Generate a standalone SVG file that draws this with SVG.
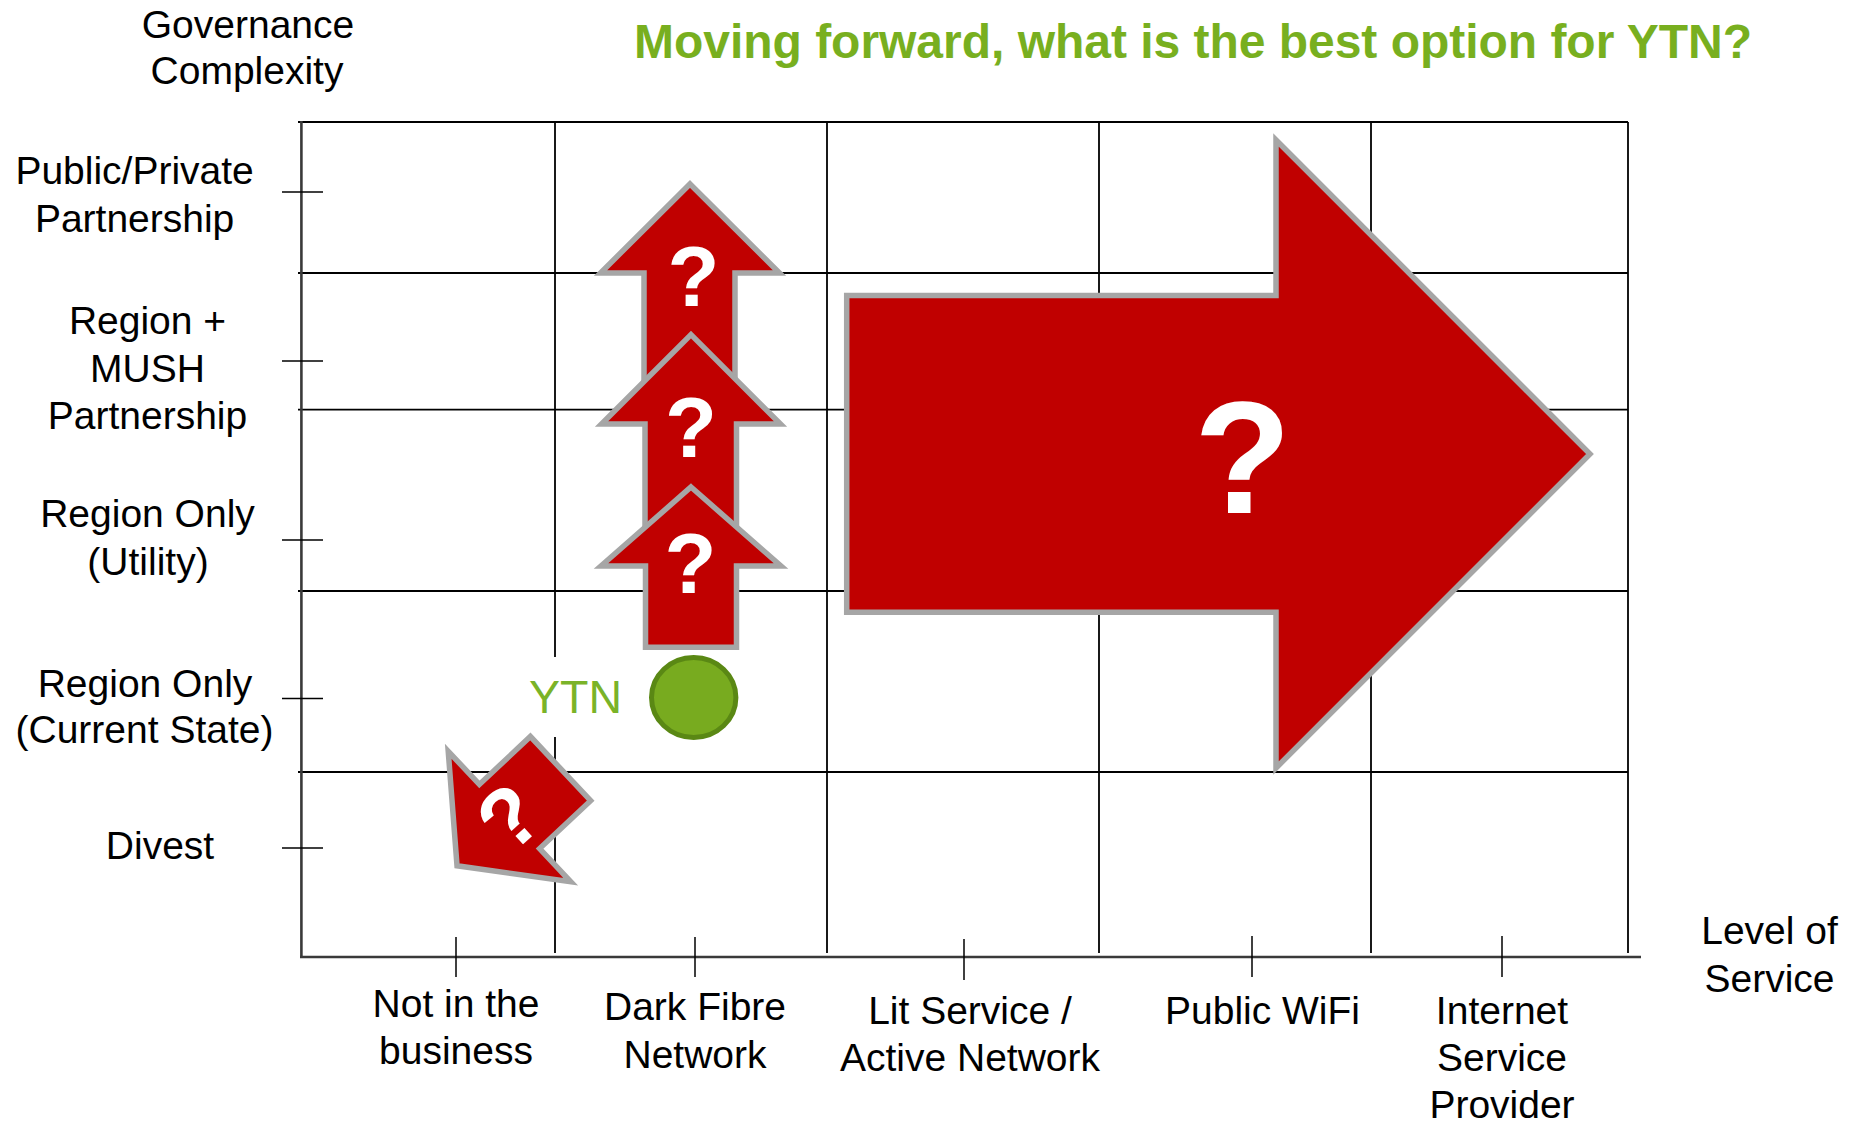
<svg xmlns="http://www.w3.org/2000/svg" width="1855" height="1124" viewBox="0 0 1855 1124">
<style>
  .lbl { font-family: "Liberation Sans", Arial, sans-serif; font-size: 39px; fill: #000; text-anchor: middle; }
  .grid { stroke: #000; stroke-width: 1.8; fill: none; }
  .axis { stroke: #3a3a3a; stroke-width: 2.6; fill: none; }
  .tick { stroke: #000; stroke-width: 1.5; fill: none; }
  .arrow { fill: #C00000; stroke: #A6A6A6; stroke-width: 5.5; stroke-linejoin: miter; }
  .q { font-family: "Liberation Sans", Arial, sans-serif; font-weight: bold; fill: #fff; text-anchor: middle; }
  .green { fill: #78AF1F; }
</style>
<rect x="0" y="0" width="1855" height="1124" fill="#fff"/>

<g id="grid">
  <line class="grid" x1="298" y1="122" x2="1628" y2="122"/>
  <line class="grid" x1="298" y1="273" x2="1628" y2="273"/>
  <line class="grid" x1="298" y1="409.6" x2="1628" y2="409.6"/>
  <line class="grid" x1="298" y1="591" x2="1628" y2="591"/>
  <line class="grid" x1="298" y1="772" x2="1628" y2="772"/>
  <line class="grid" x1="555" y1="122" x2="555" y2="953"/>
  <line class="grid" x1="827" y1="122" x2="827" y2="953"/>
  <line class="grid" x1="1099" y1="122" x2="1099" y2="953"/>
  <line class="grid" x1="1371" y1="122" x2="1371" y2="953"/>
  <line class="grid" x1="1628" y1="122" x2="1628" y2="953"/>
</g>

<g id="axes">
  <line class="axis" x1="301.4" y1="121" x2="301.4" y2="957"/>
  <line class="axis" x1="300" y1="957" x2="1641" y2="957"/>
  <line class="tick" x1="282" y1="192" x2="323" y2="192"/>
  <line class="tick" x1="282" y1="361" x2="323" y2="361"/>
  <line class="tick" x1="282" y1="540" x2="323" y2="540"/>
  <line class="tick" x1="282" y1="698.5" x2="323" y2="698.5"/>
  <line class="tick" x1="282" y1="848" x2="323" y2="848"/>
  <line class="tick" x1="456" y1="937" x2="456" y2="977"/>
  <line class="tick" x1="695" y1="937" x2="695" y2="977"/>
  <line class="tick" x1="964" y1="939" x2="964" y2="980"/>
  <line class="tick" x1="1252" y1="936" x2="1252" y2="977"/>
  <line class="tick" x1="1502" y1="936" x2="1502" y2="977"/>
</g>

<g id="title">
  <text x="634" y="57.5" font-family="Liberation Sans, Arial, sans-serif" font-size="48" font-weight="bold" class="green" textLength="1118" lengthAdjust="spacing">Moving forward, what is the best option for YTN?</text>
</g>

<g id="y-axis-title">
  <text class="lbl" x="248" y="37.5">Governance</text>
  <text class="lbl" x="247" y="84">Complexity</text>
</g>

<g id="y-labels">
  <text class="lbl" x="134.6" y="184">Public/Private</text>
  <text class="lbl" x="134.6" y="232">Partnership</text>
  <text class="lbl" x="147.5" y="334">Region +</text>
  <text class="lbl" x="147.5" y="382">MUSH</text>
  <text class="lbl" x="147.5" y="428.6">Partnership</text>
  <text class="lbl" x="147.5" y="527">Region Only</text>
  <text class="lbl" x="148" y="575">(Utility)</text>
  <text class="lbl" x="145" y="697">Region Only</text>
  <text class="lbl" x="144.5" y="743">(Current State)</text>
  <text class="lbl" x="160" y="858.6">Divest</text>
</g>

<g id="x-labels">
  <text class="lbl" x="456" y="1017">Not in the</text>
  <text class="lbl" x="456" y="1064">business</text>
  <text class="lbl" x="695" y="1020">Dark Fibre</text>
  <text class="lbl" x="695" y="1068">Network</text>
  <text class="lbl" x="970" y="1024">Lit Service /</text>
  <text class="lbl" x="970" y="1071">Active Network</text>
  <text class="lbl" x="1262.5" y="1024">Public WiFi</text>
  <text class="lbl" x="1502" y="1024">Internet</text>
  <text class="lbl" x="1502" y="1071">Service</text>
  <text class="lbl" x="1502" y="1117.5">Provider</text>
  <text class="lbl" x="1769.5" y="944">Level of</text>
  <text class="lbl" x="1769.5" y="992">Service</text>
</g>

<g id="ytn-label">
  <rect x="525" y="657" width="115" height="80" fill="#fff"/>
  <text x="529" y="713.3" font-family="Liberation Sans, Arial, sans-serif" font-size="46.5" fill="#7AB328">YTN</text>
</g>

<g id="arrow-up-1">
  <path class="arrow" d="M690,184 L779.5,273 L735,273 L735,400 L644,400 L644,273 L600.5,273 Z"/>
  <text class="q" x="693.5" y="305.7" font-size="85">?</text>
</g>
<g id="arrow-up-2">
  <path class="arrow" d="M691,334.6 L780.5,424 L736.5,424 L736.5,545 L645,545 L645,424 L601.5,424 Z"/>
  <text class="q" x="691" y="456.7" font-size="85">?</text>
</g>
<g id="arrow-up-3">
  <path class="arrow" d="M691,487 L781,566 L736.5,566 L736.5,647.3 L645.5,647.3 L645.5,566 L601,566 Z"/>
  <text class="q" x="690.5" y="592.7" font-size="85">?</text>
</g>

<g id="arrow-right-big">
  <path class="arrow" d="M846.7,295.5 L1276,295.5 L1276,140 L1590,454 L1276,768 L1276,612.3 L846.7,612.3 Z"/>
  <text class="q" x="1242.6" y="513" font-size="159">?</text>
</g>

<g id="arrow-divest">
  <path class="arrow" transform="translate(509.5,816.5) rotate(-133.2)" d="M0,-72 L89.5,0 L44,0 L44,70 L-44,70 L-44,0 L-89.5,0 Z"/>
  <text class="q" transform="translate(508,816) rotate(-42)" x="0" y="31" font-size="85">?</text>
</g>

<g id="ytn-marker">
  <ellipse cx="693.7" cy="697.5" rx="42.2" ry="40" fill="#78AB1F" stroke="#5A8814" stroke-width="5"/>
</g>
</svg>
